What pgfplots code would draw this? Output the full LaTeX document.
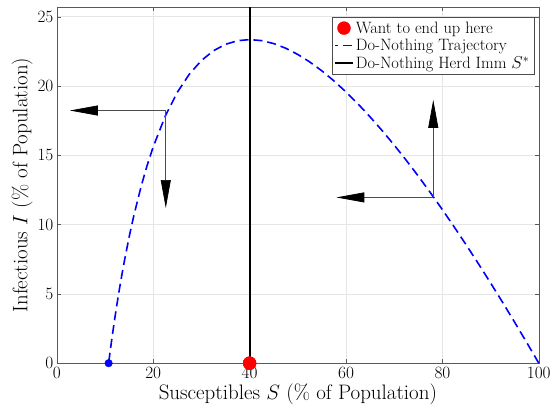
\documentclass[border=0pt]{standalone}
\usepackage{pgfplots}
\pgfplotsset{compat=1.18}
\usetikzlibrary{arrows.meta}
\begin{document}
\begin{tikzpicture}
\begin{axis}[
  scale only axis, width=483pt, height=357pt,
  xmin=0, xmax=100, ymin=0, ymax=25.7,
  xtick={0,20,...,100}, ytick={0,5,...,25},
  tick align=inside, tick pos=both,
  grid=major, major grid style={gray!20, line width=0.4pt},
  axis line style={gray!70!black, line width=0.5pt},
  tick style={gray!70!black},
  font=\fontsize{17}{19}\selectfont,
  tick label style={font=\fontsize{17}{19}\selectfont},
  xticklabel style={yshift=-1pt},
  xlabel={Susceptibles $S$ (\% of Population)},
  ylabel={Infectious $I$ (\% of Population)},
  label style={font=\fontsize{21}{23}\selectfont},
  xlabel style={yshift=2pt}, ylabel style={yshift=-2pt},
  legend style={at={(0.99,0.972)}, anchor=north east, draw=black!70, fill=white,
    font=\fontsize{16.5}{18}\selectfont, row sep=-0.5pt, inner sep=2pt,
    nodes={inner sep=2.5pt}},
  legend cell align=left,
  clip=false,
]
\addplot[only marks, mark=*, mark size=6.5pt, red, mark options={fill=red, draw=red}] coordinates {(40,0)};
\addlegendentry{Want to end up here}
\addplot[blue, line width=1.6pt, dash pattern=on 9pt off 5pt,
  legend image code/.code={\draw[blue, line width=1.6pt, dash pattern=on 3pt off 5pt on 9pt off 5pt] (0cm,0cm) -- (0.6cm,0cm);}] coordinates {
(100,0) (97.5,1.487) (95,2.948) (92.5,4.382) (90,5.786) (87.5,7.159) (85,8.499) (82.5,9.805)
(80,11.074) (77.5,12.304) (75,13.493) (72.5,14.637) (70,15.733) (67.5,16.778) (65,17.769)
(62.5,18.700) (60,19.567) (57.5,20.365) (55,21.087) (52.5,21.726) (50,22.274) (47.5,22.722)
(45,23.060) (42.5,23.273) (40,23.348) (37.5,23.267) (35,23.007) (32.5,22.543) (30,21.841)
(27.5,20.861) (25,19.548) (22.5,17.834) (20,15.622) (18.75,14.291) (17.5,12.781) (16,10.697)
(15,9.115) (14,7.355) (13.5,6.401) (13,5.391) (12.5,4.322) (12,3.189) (11.5,1.987) (11,0.709) (10.74,0)
};
\addlegendentry{Do-Nothing Trajectory}
\addplot[black, line width=1.8pt] coordinates {(40,0) (40,25.7)};
\addlegendentry{Do-Nothing Herd Imm $S^{*}$}
\addplot[only marks, mark=*, mark size=6.5pt, red, mark options={fill=red, draw=red}, forget plot] coordinates {(40,0)};
\addplot[only marks, mark=*, mark size=3.8pt, blue, mark options={fill=blue, draw=blue}, forget plot] coordinates {(10.74,0)};
% arrows
\addplot[gray!60!black, line width=0.7pt, forget plot, -{Triangle[length=28pt, width=10pt, fill=black, color=black]}] coordinates {(22.6,18.23) (2.7,18.23)};
\addplot[gray!60!black, line width=0.7pt, forget plot, -{Triangle[length=28pt, width=10pt, fill=black, color=black]}] coordinates {(22.6,18.23) (22.6,11.2)};
\addplot[gray!60!black, line width=0.7pt, forget plot, -{Triangle[length=28pt, width=10pt, fill=black, color=black]}] coordinates {(78.1,11.96) (58,11.96)};
\addplot[gray!60!black, line width=0.7pt, forget plot, -{Triangle[length=28pt, width=10pt, fill=black, color=black]}] coordinates {(78.1,11.96) (78.1,19.0)};
\path (rel axis cs:-0.118,-0.137) rectangle (rel axis cs:1.029,1.0196);
\end{axis}
\end{tikzpicture}
\end{document}
